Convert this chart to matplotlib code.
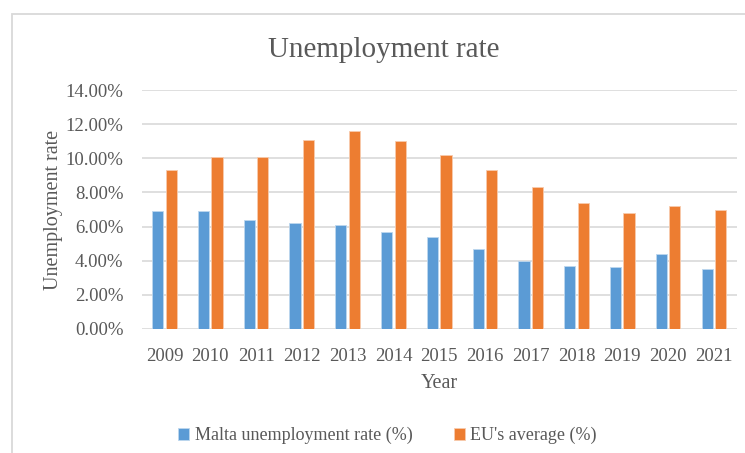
import numpy as np
import matplotlib.pyplot as plt
from matplotlib.patches import Rectangle
from matplotlib.ticker import PercentFormatter

plt.rcParams['font.family'] = ['Liberation Serif', 'DejaVu Serif']

years = ['2009', '2010', '2011', '2012', '2013', '2014', '2015',
         '2016', '2017', '2018', '2019', '2020', '2021']
malta = [6.9, 6.9, 6.4, 6.2, 6.1, 5.7, 5.4, 4.7, 4.0, 3.7, 3.6, 4.4, 3.5]
eu_avg = [9.3, 10.1, 10.1, 11.1, 11.6, 11.0, 10.2, 9.3, 8.3, 7.4, 6.8, 7.2, 7.0]

text_col = '#595959'
blue = '#5B9BD5'
orange = '#ED7D31'

fig = plt.figure(figsize=(7.45, 4.53), dpi=100)
ax = fig.add_axes([0.19, 0.274, 0.799, 0.527])

# chart frame (only left and top edges fall inside the image)
fig.patches.append(Rectangle((12 / 745, -0.1), 1.2, 1 - 14 / 453 + 0.1,
                             transform=fig.transFigure, fill=False,
                             edgecolor='#D9D9D9', linewidth=1.3))

x = np.arange(len(years))
w = 0.245
gap = 0.025
ax.bar(x - w / 2 - gap, malta, w, color=blue, edgecolor='#BDD7EE',
       linewidth=0.6, label='Malta unemployment rate (%)', zorder=3)
ax.bar(x + w / 2 + gap, eu_avg, w, color=orange, edgecolor='#F8CBAD',
       linewidth=0.6, label="EU's average (%)", zorder=3)

ax.set_xlim(-0.5, len(years) - 0.5)
ax.set_ylim(0, 14)
ax.set_yticks(np.arange(0, 15, 2))
ax.yaxis.set_major_formatter(PercentFormatter(decimals=2))
ax.set_xticks(x)
ax.set_xticklabels(years)
ax.grid(axis='y', color='#D9D9D9', linewidth=1.2, zorder=0)
for s in ax.spines.values():
    s.set_visible(False)
ax.tick_params(length=0, labelsize=13.5, colors=text_col)
ax.tick_params(axis='x', pad=14)
ax.tick_params(axis='y', pad=13)

ax.set_xlabel('Year', fontsize=14.5, color=text_col, labelpad=6)
ax.set_ylabel('Unemployment rate', fontsize=14.5, color=text_col, labelpad=2)
fig.text(0.515, 0.89, 'Unemployment rate', ha='center', va='center',
         fontsize=21, color=text_col)

fig.legend(loc='center', bbox_to_anchor=(0.52, 0.038), ncol=2, frameon=False,
           fontsize=13, labelcolor=text_col, handlelength=0.6,
           handleheight=0.6, handletextpad=0.3, columnspacing=2.3)

fig.savefig('out.png', dpi=100)
